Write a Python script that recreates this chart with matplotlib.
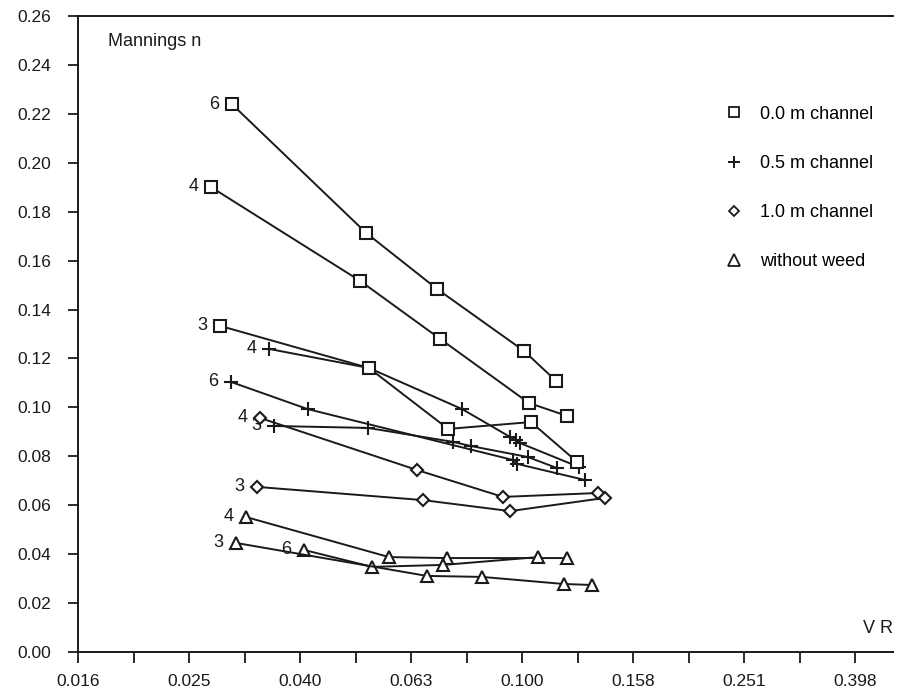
import numpy as np
import matplotlib
matplotlib.use('Agg')
import matplotlib.pyplot as plt
from matplotlib.lines import Line2D
from matplotlib.ticker import FixedLocator, FixedFormatter, NullFormatter

plt.rcParams['font.family'] = ['Liberation Sans', 'DejaVu Sans']

# 0.0 m channel (squares), labelled by run number
sq_6_x = [0.0300, 0.0524, 0.0703, 0.1008, 0.1152]
sq_6_y = [0.2240, 0.1713, 0.1484, 0.1231, 0.1108]
sq_4_x = [0.0275, 0.0511, 0.0712, 0.1029, 0.1206]
sq_4_y = [0.1901, 0.1517, 0.1280, 0.1018, 0.0965]
sq_3_x = [0.0286, 0.0530, 0.0736, 0.1038, 0.1257]
sq_3_y = [0.1333, 0.1161, 0.0912, 0.0940, 0.0777]

# 0.5 m channel (plus)
pl_4_x = [0.0350, 0.0530, 0.0780, 0.0952, 0.0975, 0.0992, 0.1267]
pl_4_y = [0.1239, 0.1161, 0.0993, 0.0879, 0.0867, 0.0854, 0.0756]
pl_6_x = [0.0299, 0.0411, 0.0963, 0.0980, 0.1299]
pl_6_y = [0.1104, 0.0993, 0.0785, 0.0769, 0.0703]
pl_3_x = [0.0357, 0.0528, 0.0751, 0.0809, 0.1025, 0.1156]
pl_3_y = [0.0924, 0.0916, 0.0859, 0.0842, 0.0797, 0.0752]

# 1.0 m channel (diamonds)
di_4_x = [0.0337, 0.0647, 0.0924, 0.1370]
di_4_y = [0.0957, 0.0744, 0.0634, 0.0650]
di_3_x = [0.0333, 0.0663, 0.0952, 0.1411]
di_3_y = [0.0675, 0.0621, 0.0576, 0.0630]

# without weed (triangles)
tr_4_x = [0.0318, 0.0576, 0.0733, 0.1206]
tr_4_y = [0.0552, 0.0388, 0.0384, 0.0384]
tr_6_x = [0.0405, 0.0537, 0.0721, 0.1069]
tr_6_y = [0.0417, 0.0348, 0.0356, 0.0388]
tr_3_x = [0.0305, 0.0674, 0.0847, 0.1190, 0.1337]
tr_3_y = [0.0446, 0.0311, 0.0307, 0.0278, 0.0274]

x_major = [10 ** (-1.8 + 0.2 * k) for k in range(8)]
x_labels = ['0.016', '0.025', '0.040', '0.063', '0.100', '0.158', '0.251', '0.398']
x_minor = [10 ** (-1.7 + 0.2 * k) for k in range(7)]
y_ticks = np.arange(0, 0.261, 0.02)

ink = '#1a1a1a'

fig = plt.figure(figsize=(9.08, 6.92), dpi=100, facecolor='white')
ax = fig.add_axes([78 / 908, 1 - 652 / 692, 815 / 908, 636 / 692])

# (x, y, marker, size, run label, zorder) - squares on top like the original
series = [
    (sq_6_x, sq_6_y, 's', 8.5, '6', 4),
    (sq_4_x, sq_4_y, 's', 8.5, '4', 4),
    (sq_3_x, sq_3_y, 's', 8.5, '3', 4),
    (pl_4_x, pl_4_y, '+', 10, '4', 3),
    (pl_6_x, pl_6_y, '+', 10, '6', 3),
    (pl_3_x, pl_3_y, '+', 10, '3', 3),
    (di_4_x, di_4_y, 'D', 6.5, '4', 3),
    (di_3_x, di_3_y, 'D', 6.5, '3', 3),
    (tr_4_x, tr_4_y, '^', 9, '4', 3),
    (tr_6_x, tr_6_y, '^', 9, '6', 3),
    (tr_3_x, tr_3_y, '^', 9, '3', 3),
]

for xs, ys, mk, ms, lab, z in series:
    ax.plot(xs, ys, color=ink, lw=1.4, marker=mk, ms=ms,
            mfc='white', mec=ink, mew=1.5, zorder=z)
    ax.annotate(lab, (xs[0], ys[0]), xytext=(-9, 0), textcoords='offset points',
                ha='right', va='center', fontsize=13, color=ink)

ax.set_xscale('log')
ax.set_xlim(10 ** -1.8, 10 ** (-1.8 + 815 / 555))
ax.set_ylim(0, 0.26)

ax.xaxis.set_major_locator(FixedLocator(x_major))
ax.xaxis.set_major_formatter(FixedFormatter(x_labels))
ax.xaxis.set_minor_locator(FixedLocator(x_minor))
ax.xaxis.set_minor_formatter(NullFormatter())
ax.set_yticks(y_ticks)
ax.set_yticklabels(['%.2f' % v for v in y_ticks])

ax.tick_params(axis='x', which='both', direction='out', length=8, width=1.3,
               pad=8, labelsize=12.5, colors=ink)
ax.tick_params(axis='y', direction='out', length=7.5, width=1.3,
               pad=12, labelsize=12.5, colors=ink)

ax.spines['right'].set_visible(False)
for s in ['left', 'bottom', 'top']:
    ax.spines[s].set_linewidth(1.4)
    ax.spines[s].set_color(ink)

ax.text(0.037, 0.96, 'Mannings n', transform=ax.transAxes, fontsize=13,
        ha='left', va='center', color=ink)
ax.text(1.0, 0.037, 'V R', transform=ax.transAxes, fontsize=13,
        ha='right', va='center', color=ink)

handles = [
    Line2D([], [], ls='none', marker='s', ms=7.5, mfc='white', mec=ink, mew=1.3),
    Line2D([], [], ls='none', marker='+', ms=9, mec=ink, mew=1.4),
    Line2D([], [], ls='none', marker='D', ms=5.5, mfc='white', mec=ink, mew=1.3),
    Line2D([], [], ls='none', marker='^', ms=8, mfc='white', mec=ink, mew=1.3),
]
names = ['0.0 m channel', '0.5 m channel', '1.0 m channel', 'without weed']
ax.legend(handles, names, loc='upper left', bbox_to_anchor=(0.783, 0.873),
          frameon=False, fontsize=13, labelspacing=1.78, handlelength=1.0,
          handletextpad=0.95, borderpad=0)

fig.savefig('out.png', dpi=100, facecolor='white')
